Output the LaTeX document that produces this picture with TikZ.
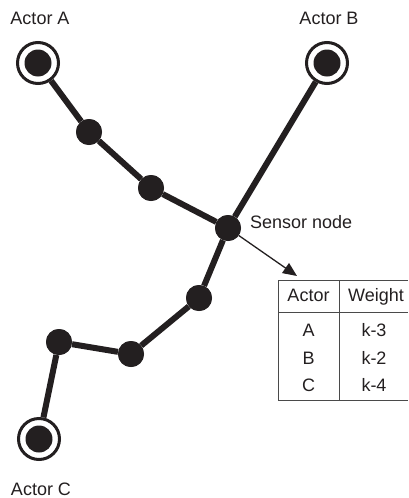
\documentclass[tikz,border=0pt]{standalone}
\usepackage{fontspec}
\setmainfont{Liberation Sans}
\usetikzlibrary{arrows.meta}
\definecolor{ink}{HTML}{231F20}
\definecolor{rule}{HTML}{4A4A4A}
\begin{document}
\begin{tikzpicture}[x=1pt,y=-1pt,
  label text/.style={inner sep=0pt, text=ink, font=\fontsize{18}{21}\selectfont,
    text height=12.8pt, text depth=0pt},
  dot/.style={circle, fill=ink, inner sep=0pt, minimum size=26pt},
  ring/.style={circle, draw=ink, line width=3pt, inner sep=0pt, minimum size=41pt},
  edge/.style={draw=ink, line width=6pt},
  pointer/.style={draw=ink, line width=1.3pt, -{Triangle[length=14pt,width=12pt]}},
  grid line/.style={draw=rule, line width=0.9pt}]
\useasboundingbox (0,0) rectangle (408,498);

% actors (ring with a filled core)
\node[ring] (A) at (38,63) {};
\node[ring] (B) at (327,63) {};
\node[ring] (C) at (39,439) {};
\foreach \a in {A,B,C} \fill[ink] (\a.center) circle (13.5);

% relay nodes and the sensor node
\node[dot] (n1) at (89,132) {};
\node[dot] (n2) at (151,188) {};
\node[dot] (S)  at (228,228) {};
\node[dot] (n3) at (199,298) {};
\node[dot] (n4) at (131,354) {};
\node[dot] (n5) at (59,342) {};

% paths between the nodes
\path[edge] (A) -- (n1) -- (n2) -- (S);
\path[edge] (B) -- (S);
\path[edge] (S) -- (n3) -- (n4) -- (n5) -- (C);
% redraw dots over the path ends
\foreach \n in {n1,n2,S,n3,n4,n5} \fill[ink] (\n.center) circle (13);

% labels
\node[label text] (lA) at (40,18.5) {Actor A};
\node[label text] (lB) at (329,18.5) {Actor B};
\node[label text] (lC) at (41,489) {Actor C};
\node[label text, anchor=west] (lS) at (250,222) {Sensor node};

% weight table
\coordinate (tl) at (278,280);
\coordinate (tr) at (408,280);
\coordinate (hl) at (278,312);
\coordinate (hr) at (408,312);
\coordinate (bl) at (278,400);
\coordinate (br) at (408,400);
\coordinate (mt) at (339,280);
\coordinate (mb) at (339,400);
\path[grid line] (tl) -- (tr);
\path[grid line] (hl) -- (hr);
\path[grid line] (bl) -- (br);
\path[grid line] (tl) -- (bl);
\path[grid line] (mt) -- (mb);

\node[label text] (h1) at (308.5,295) {Actor};
\node[label text] (h2) at (376,295) {Weight};
\node[label text] (r1a) at (308.5,330) {A};
\node[label text] (r1b) at (374,330) {k-3};
\node[label text] (r2a) at (308.5,358) {B};
\node[label text] (r2b) at (374,358) {k-2};
\node[label text] (r3a) at (308.5,385) {C};
\node[label text] (r3b) at (374,385) {k-4};

\coordinate (tip) at (297,276);
\draw[pointer] (S) -- (tip);
\end{tikzpicture}
\end{document}
